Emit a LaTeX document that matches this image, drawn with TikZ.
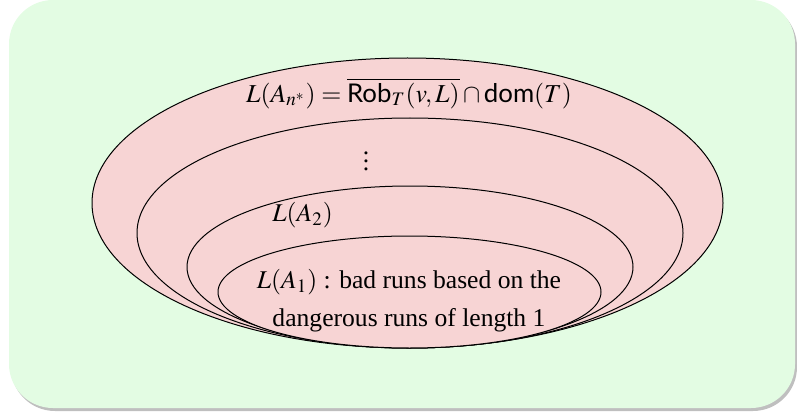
\documentclass[tikz,border=0pt]{standalone}
\usepackage{mathptmx}
\usepackage[no-math]{fontspec}
\setmainfont{Liberation Serif}
\newfontfamily\gillfont{Lato}
\usetikzlibrary{shapes.geometric, shadows}

\definecolor{boxgreen}{RGB}{227,252,227}
\definecolor{setpink}{RGB}{247,212,212}

\begin{document}
\begin{tikzpicture}[
    x=0.5pt, y=-0.5pt,
    panel/.style={rectangle, draw=none, fill=boxgreen, rounded corners=22pt, inner sep=0pt,
        drop shadow={shadow xshift=1pt, shadow yshift=-1.5pt, fill=black!50, opacity=0.5}},
    langset/.style={ellipse, draw=black, fill=setpink, inner sep=0pt, line width=0.5pt},
    settext/.style={inner sep=0pt, font=\fontsize{12.8}{19}\selectfont, align=center}
]
\useasboundingbox (0,0) rectangle (797,417);

% Background panel
\node[panel, minimum width=393pt, minimum height=204pt] (panel) at (402,204) {};

% Nested languages, outermost first
\node[langset, minimum width=315.5pt, minimum height=145pt] (nstar) at (407.5,203) {};
\node[langset, minimum width=273pt, minimum height=115pt] (middle) at (410,233) {};
\node[langset, minimum width=223pt, minimum height=81pt] (two) at (410,267) {};
\node[langset, minimum width=191.5pt, minimum height=56pt] (one) at (409.5,292) {};

% Labels
\node[settext, font=\fontsize{12.9}{16}\selectfont] (nstartext) at (409,93)
    {$L(A_{n^*}) = \overline{\mbox{\gillfont Rob}_T(v,L)} \cap \mbox{\gillfont dom}(T)$};
\node[settext] (dotstext) at (366,155) {$\vdots$};
\node[settext, anchor=west] (twotext) at (272,215) {$L(A_2)$};
\node[settext] (onetext) at (409,301) {$L(A_1)$ : bad runs based on the\\dangerous runs of length 1};

\end{tikzpicture}
\end{document}
